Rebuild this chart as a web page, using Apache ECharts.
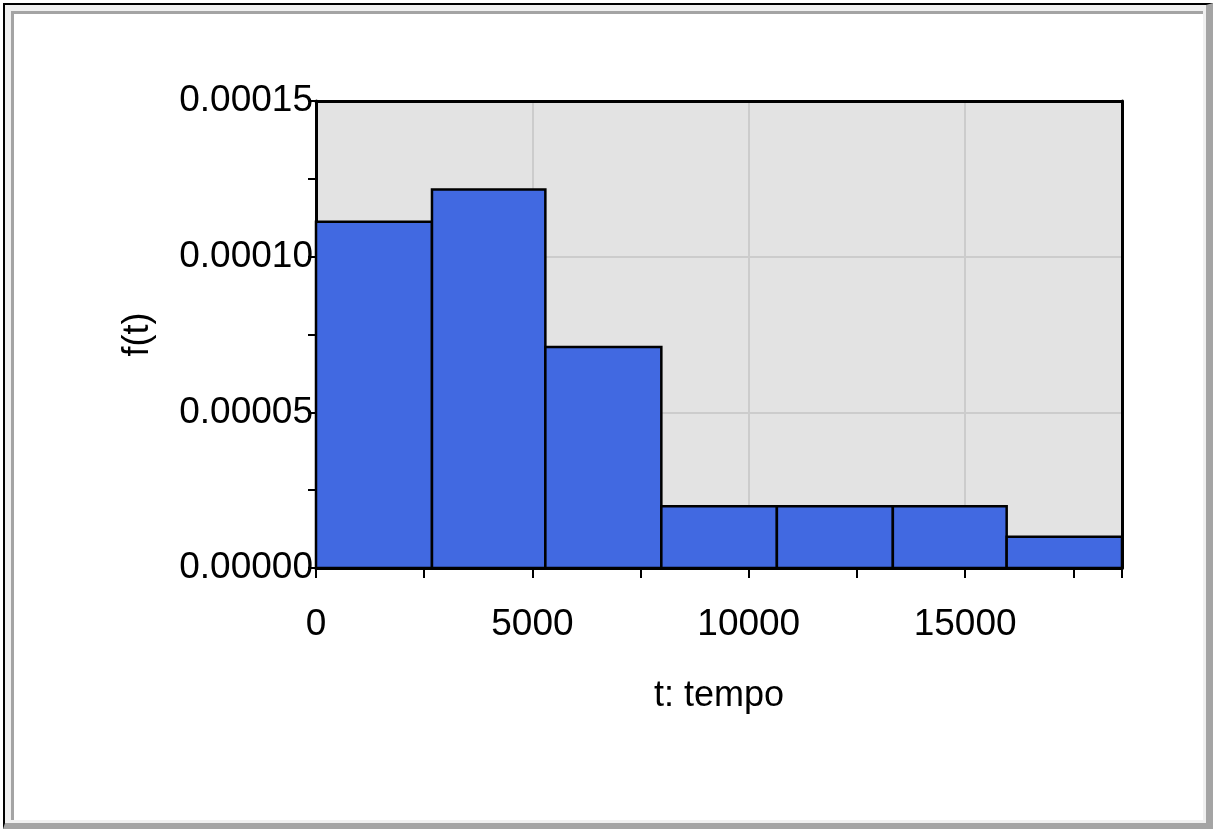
<!DOCTYPE html>
<html>
<head>
<meta charset="utf-8">
<title>f(t) - istogramma</title>
<script src="https://cdn.jsdelivr.net/npm/echarts@6/dist/echarts.min.js"></script>
<style>
  html, body { margin: 0; padding: 0; width: 1213px; height: 829px; overflow: hidden; background: #fff; }
  /* cornice in rilievo attorno al grafico */
  #outer { position: absolute; left: 3px; top: 3px; right: 0; bottom: 0;
           border-left: 2px solid #000; border-top: 2px solid #000;
           border-right: 7px solid #a4a4a4; border-bottom: 6px solid #a4a4a4;
           background: #f0f0f0; }
  #inner { position: absolute; left: 6px; top: 6px; right: 3px; bottom: 3px;
           border-left: 3px solid #a4a4a4; border-top: 3px solid #a4a4a4;
           background: #fff; }
  #chart { position: absolute; left: 0; top: 0; width: 1213px; height: 829px; z-index: 2; }
</style>
</head>
<body>
<div id="outer"><div id="inner"></div></div>
<div id="chart"></div>
<script>
// estremi delle classi (t) e densita' f(t)
var binEdges = [0, 2680, 5300, 7980, 10650, 13330, 15960, 18625];
var density = [1.112e-4, 1.216e-4, 7.1e-5, 1.98e-5, 1.98e-5, 1.98e-5, 1.0e-5];
var xName = "t: tempo";
var yName = "f(t)";

var bins = [];
for (var i = 0; i < density.length; i++) {
    bins.push([binEdges[i], binEdges[i + 1], density[i]]);
}

var font = "'Liberation Sans', Arial, sans-serif";
var xMax = binEdges[binEdges.length - 1];
var yMax = 0.00015;
var myChart = echarts.init(document.getElementById("chart"));

// assi "cornice" in alto e a destra, solo linea nera
var frameAxis = {
    type: "value",
    axisLine: { show: true, onZero: false, lineStyle: { color: "#000", width: 3 } },
    axisTick: { show: false },
    axisLabel: { show: false },
    splitLine: { show: false }
};

var option = {
    animation: false,
    grid: {
        left: 316, top: 101, width: 806, height: 467,
        show: true,
        backgroundColor: "#e3e3e3",
        borderWidth: 0
    },
    xAxis: [{
        type: "value",
        min: 0,
        max: xMax,
        interval: 5000,
        name: xName,
        nameLocation: "middle",
        nameGap: 110,
        nameTextStyle: { color: "#000", fontSize: 36, fontFamily: font },
        axisLine: { show: true, onZero: false, lineStyle: { color: "#000", width: 3 } },
        axisTick: { show: true, length: 10, lineStyle: { color: "#000", width: 2 } },
        minorTick: { show: true, splitNumber: 2, length: 10, lineStyle: { color: "#000", width: 2 } },
        axisLabel: {
            color: "#000", fontSize: 37, fontFamily: font, margin: 38,
            showMaxLabel: false,
            formatter: function (v) { return v % 5000 === 0 ? String(v) : ""; }
        },
        splitLine: { show: true, lineStyle: { color: "#cccccc", width: 2 } }
    }, Object.assign({ position: "top", min: 0, max: xMax }, frameAxis)],
    yAxis: [{
        type: "value",
        min: 0,
        max: yMax,
        interval: 0.00005,
        name: yName,
        nameLocation: "middle",
        nameGap: 160,
        nameTextStyle: { color: "#000", fontSize: 36, fontFamily: font },
        axisLine: { show: true, onZero: false, lineStyle: { color: "#000", width: 3 } },
        axisTick: { show: true, length: 8, lineStyle: { color: "#000", width: 2 } },
        minorTick: { show: true, splitNumber: 2, length: 8, lineStyle: { color: "#000", width: 2 } },
        axisLabel: {
            color: "#000", fontSize: 37, fontFamily: font, margin: 3,
            padding: [14, 0, 0, 0],
            formatter: function (v) { return v.toFixed(5); }
        },
        splitLine: { show: true, lineStyle: { color: "#cccccc", width: 2 } }
    }, Object.assign({ position: "right", min: 0, max: yMax }, frameAxis)],
    series: [{
        type: "custom",
        xAxisIndex: 0,
        yAxisIndex: 0,
        renderItem: function (params, api) {
            var p0 = api.coord([api.value(0), api.value(2)]);
            var p1 = api.coord([api.value(1), 0]);
            return {
                type: "rect",
                shape: { x: p0[0], y: p0[1], width: p1[0] - p0[0], height: p1[1] - p0[1] },
                style: { fill: "#4169e1", stroke: "#000", lineWidth: 2.5 }
            };
        },
        encode: { x: [0, 1], y: 2 },
        data: bins
    }]
};

myChart.setOption(option);
window.addEventListener("resize", function () {
    myChart.resize();
});
</script>
</body>
</html>
